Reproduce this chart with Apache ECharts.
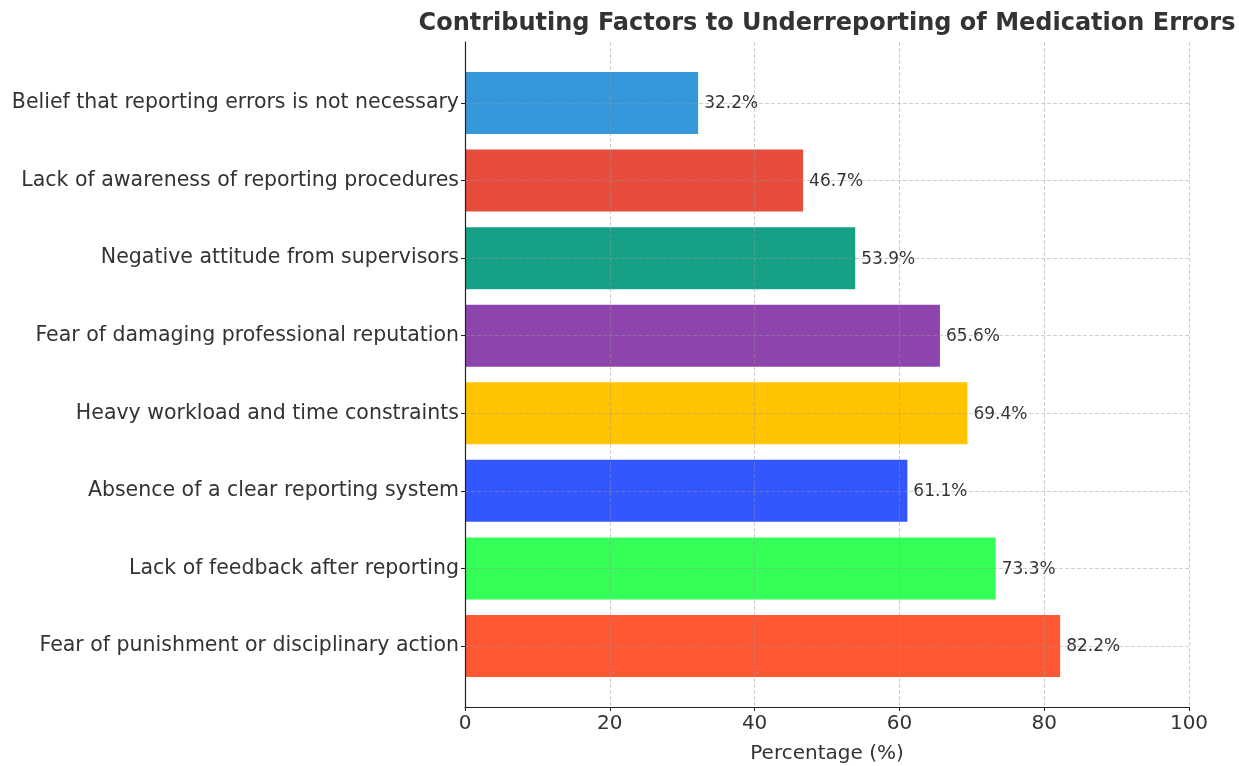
<!DOCTYPE html>
<html>
<head>
<meta charset="utf-8">
<script src="https://cdn.jsdelivr.net/npm/echarts@6/dist/echarts.min.js"></script>
<style>
  html, body { margin: 0; padding: 0; background: #fff; }
  #chart { width: 1239px; height: 766px; }
</style>
</head>
<body>
<div id="chart"></div>
<script>
// top to bottom, as in the picture
const factors = [
  'Belief that reporting errors is not necessary',
  'Lack of awareness of reporting procedures',
  'Negative attitude from supervisors',
  'Fear of damaging professional reputation',
  'Heavy workload and time constraints',
  'Absence of a clear reporting system',
  'Lack of feedback after reporting',
  'Fear of punishment or disciplinary action'
];
const percentages = [32.2, 46.7, 53.9, 65.6, 69.4, 61.1, 73.3, 82.2];
const barColors = ['#3498db', '#e74c3c', '#16a085', '#8e44ad', '#ffc300', '#3357ff', '#33ff57', '#ff5733'];

const font = 'DejaVu Sans';
const gridLine = { show: true, lineStyle: { type: [4, 2], color: 'rgba(150,150,150,0.45)', width: 1 } };

const chart = echarts.init(document.getElementById('chart'), null, { renderer: 'canvas' });

const option = {
  animation: false,
  textStyle: { fontFamily: font },
  title: {
    text: 'Contributing Factors to Underreporting of Medication Errors',
    left: 822, top: 7, textAlign: 'center',
    textStyle: { fontFamily: font, fontWeight: 'bold', fontSize: 24, color: '#333' }
  },
  grid: [
    // frame: spines, x ticks, vertical grid lines
    { left: 465, right: 50, top: 42, bottom: 59, outerBoundsMode: 'none', containLabel: false },
    // bars: category centres spaced like the reference
    { left: 465, right: 50, top: 103, bottom: 120, outerBoundsMode: 'none', containLabel: false }
  ],
  xAxis: [
    {
      gridIndex: 0, type: 'value', min: 0, max: 100, interval: 20, z: 10,
      name: 'Percentage (%)', nameLocation: 'middle', nameGap: 37,
      nameTextStyle: { fontFamily: font, fontSize: 20, color: '#333' },
      axisLine: { show: true, lineStyle: { color: '#222', width: 1.2 } },
      axisTick: { show: true, length: 4, lineStyle: { color: '#222' } },
      axisLabel: { fontFamily: font, fontSize: 20, color: '#333', margin: 7 },
      splitLine: gridLine
    },
    {
      gridIndex: 1, type: 'value', min: 0, max: 100, show: false
    }
  ],
  yAxis: [
    {
      gridIndex: 0, type: 'value', min: 0, max: 1, z: 10,
      axisLine: { show: true, lineStyle: { color: '#222', width: 1.2 } },
      axisTick: { show: false }, axisLabel: { show: false }, splitLine: { show: false }
    },
    {
      gridIndex: 1, type: 'category', data: factors, inverse: true, boundaryGap: false, z: 10,
      axisLine: { show: false },
      axisTick: { show: true, length: 4, lineStyle: { color: '#222' } },
      axisLabel: { fontFamily: font, fontSize: 20.5, color: '#333', margin: 6 },
      splitLine: gridLine
    }
  ],
  series: [{
    type: 'bar',
    xAxisIndex: 1, yAxisIndex: 1,
    barWidth: 62,
    clip: false,
    data: percentages.map((v, i) => ({ value: v, itemStyle: { color: barColors[i] } })),
    label: {
      show: true, position: 'right', distance: 6, offset: [0, 1],
      formatter: p => p.value.toFixed(1) + '%',
      fontFamily: font, fontSize: 17, color: '#333'
    }
  }]
};

chart.setOption(option);
</script>
</body>
</html>
